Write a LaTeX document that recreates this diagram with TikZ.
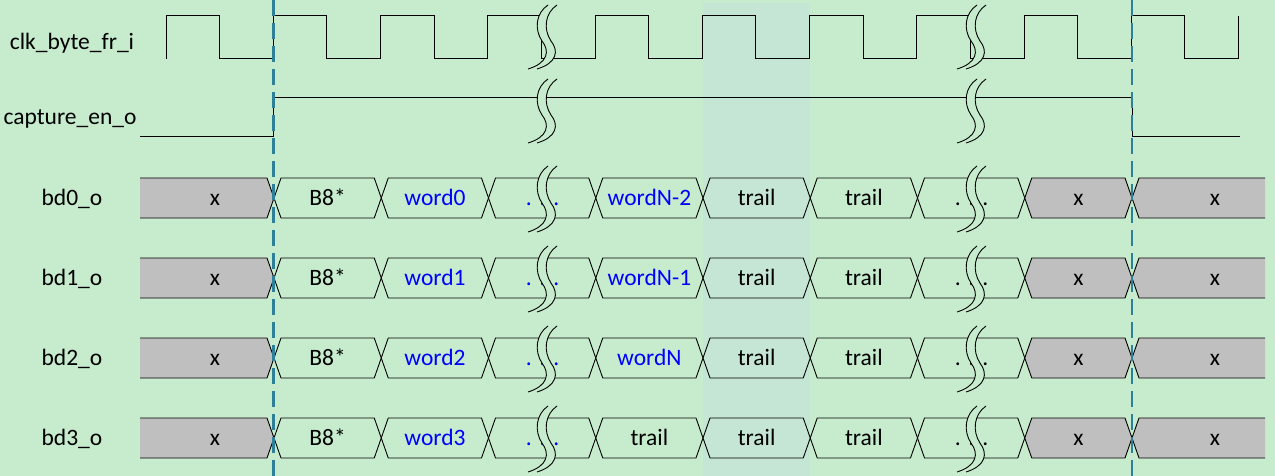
\documentclass[tikz,border=0pt]{standalone}
\usepackage{fontspec}
\setmainfont{Carlito}
\usepackage{tikz}

\definecolor{bg}{RGB}{198,236,205}
\definecolor{hl}{RGB}{197,230,213}
\definecolor{guideteal}{RGB}{46,128,152}
\definecolor{xgray}{RGB}{191,191,191}

\tikzset{
  sig/.style={black, line width=1pt, line join=miter},
  cell/.style={black, line width=0.9pt},
  lbl/.style={font=\fontsize{23.5}{28}\selectfont, inner sep=0pt, anchor=base},
  wd/.style={lbl, text=blue},
  guide/.style={draw=guideteal, line width=2.8pt, dash pattern=on 16pt off 7pt},
}

% break mark of two wavy strokes, centre at (#1,#2), half height #3
\newcommand{\sigbreak}[3]{%
  \begin{scope}[shift={(#1,#2)}, yscale=#3/32]
    \fill[bg] (8,-32) .. controls (-4,-24) and (-6,-8) .. (2,4) .. controls (10,14) and (8,26) .. (-12,32)
      -- (-3,32) .. controls (17,26) and (19,14) .. (11,4) .. controls (3,-8) and (5,-24) .. (17,-32) -- cycle;
    \draw[black, line width=0.9pt] (8,-32) .. controls (-4,-24) and (-6,-8) .. (2,4) .. controls (10,14) and (8,26) .. (-12,32);
    \draw[black, line width=0.9pt] (17,-32) .. controls (5,-24) and (3,-8) .. (11,4) .. controls (19,14) and (17,26) .. (-3,32);
  \end{scope}}

\begin{document}
\begin{tikzpicture}[x=1pt,y=-1pt]
  \useasboundingbox (0,0) rectangle (1275,476);
  \fill[bg] (0,0) rectangle (1275,476);
  \fill[hl] (703,3) rectangle (810,476);

  % signal names
  \node[lbl] (clk) at (72,50) {clk\_byte\_fr\_i};
  \node[lbl] (cap) at (70,125) {capture\_en\_o};
  \foreach \r in {0,...,3}
    \node[lbl] (bd\r) at (72,205+80*\r) {bd\r\_o};

  % clock and enable
  \draw[sig] (166,59) \foreach \k in {0,...,9} { -- ++(0,-43) -- ++(53.625,0) -- ++(0,43) -- ++(53.625,0) } -- ++(0,-43);
  \draw[sig] (140,137) -- (273.5,137) -- (273.5,98) -- (1132,98) -- (1132,137) -- (1240,137);

  % data buses
  \foreach \r/\wa/\wb/\cb in {0/word0/wordN-2/blue, 1/word1/wordN-1/blue, 2/word2/wordN/blue, 3/word3/trail/black} {
    \pgfmathsetmacro\yc{198+80*\r}
    \fill[xgray] (140,\yc-20) -- (267,\yc-20) -- (274,\yc) -- (267,\yc+20) -- (140,\yc+20) -- cycle;
    \draw[cell] (140,\yc-20) -- (267,\yc-20) -- (274,\yc) -- (267,\yc+20) -- (140,\yc+20);
    \foreach \k in {0,...,7} {
      \pgfmathsetmacro\a{274+\k*107.25}
      \pgfmathsetmacro\b{\a+107.25}
      \ifnum\k=7 \fill[xgray] (\a,\yc) -- (\a+7,\yc-20) -- (\b-7,\yc-20) -- (\b,\yc) -- (\b-7,\yc+20) -- (\a+7,\yc+20) -- cycle; \fi
      \draw[cell] (\a,\yc) -- (\a+7,\yc-20) -- (\b-7,\yc-20) -- (\b,\yc) -- (\b-7,\yc+20) -- (\a+7,\yc+20) -- cycle;
    }
    \fill[xgray] (1265,\yc-20) -- (1139,\yc-20) -- (1132,\yc) -- (1139,\yc+20) -- (1265,\yc+20) -- cycle;
    \draw[cell] (1265,\yc-20) -- (1139,\yc-20) -- (1132,\yc) -- (1139,\yc+20) -- (1265,\yc+20);
    \node[lbl] (xa\r) at (215,\yc+7) {x};
    \node[lbl] (hd\r) at (327.6,\yc+7) {B8*};
    \node[wd] (wa\r) at (435,\yc+7) {\wa};
    \node[wd] (da\r) at (542.5,\yc+7) {.\,\,.\,\,.};
    \node[lbl,text=\cb] (wb\r) at (649.4,\yc+7) {\wb};
    \node[lbl] (ta\r) at (756.6,\yc+7) {trail};
    \node[lbl] (tb\r) at (863.9,\yc+7) {trail};
    \node[lbl] (db\r) at (971.5,\yc+7) {.\,\,.\,\,.};
    \node[lbl] (xb\r) at (1078.4,\yc+7) {x};
    \node[lbl] (xc\r) at (1215,\yc+7) {x};
  }

  % breaks
  \foreach \bx in {540,969} {
    \sigbreak{\bx}{37}{32}
    \sigbreak{\bx}{111}{32}
    \foreach \r in {0,...,3} {
      \sigbreak{\bx}{199+80*\r}{33}
    }
  }

  % frame boundaries
  \draw[guide] (273.5,0) -- (273.5,476);
  \draw[guide] (1132,0) -- (1132,476);
\end{tikzpicture}
\end{document}
